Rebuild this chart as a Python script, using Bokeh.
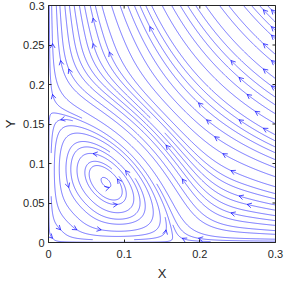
import math
from bokeh.plotting import figure
from bokeh.models import Range1d, FixedTicker
from bokeh.embed import file_html
from bokeh.resources import INLINE

# Phase-plane system.
# Inner part (helper coordinates u, v):
#   u' = u * (sad - u - cross*v),   v' = v * (-sad + cross*u + v)
#   mapped to (X, Y) = (u, v) * ((u+v)/|(u,v)|) ** bend
# Outer part: X' = X*(rx0 - rx1*X - rx2*Y),  Y' = Y*(ry0 + ry1*X + ry2*Y)
sad = [0.167]
cross = [1.9]
bend = [0.8]
rx = [0.165, 1.0, 1.171]
ry = [-0.165, 1.171, 1.0]
blend_r = [0.19, 0.27]   # radius band where inner flow turns into outer flow

x_lim = [0.0, 0.3]
y_lim = [0.0, 0.3]
x_ticks = [0, 0.1, 0.2, 0.3]
x_tick_labels = ["0", "0.1", "0.2", "0.3"]
y_ticks = [0, 0.05, 0.1, 0.15, 0.2, 0.25, 0.3]
y_tick_labels = ["0", "0.05", "0.1", "0.15", "0.2", "0.25", "0.3"]

FRAME_W, FRAME_H = 227, 237
SX = FRAME_W / (x_lim[1] - x_lim[0])
SY = FRAME_H / (y_lim[1] - y_lim[0])


def uv_field(u, v):
    a, b = sad[0], cross[0]
    return u * (a - u - b * v), v * (-a + b * u + v)


def fmap(u, v):
    r = math.hypot(u, v)
    if r < 1e-15:
        return 0.0, 0.0
    g = ((u + v) / r) ** bend[0]
    return u * g, v * g


def inner_field(x, y):
    r = math.hypot(x, y)
    g = ((x + y) / r) ** bend[0]
    u, v = x / g, y / g
    du, dv = uv_field(u, v)
    e = 1e-7
    a1 = fmap(u + e, v); a0 = fmap(u - e, v)
    b1 = fmap(u, v + e); b0 = fmap(u, v - e)
    j11 = (a1[0] - a0[0]) / (2 * e); j21 = (a1[1] - a0[1]) / (2 * e)
    j12 = (b1[0] - b0[0]) / (2 * e); j22 = (b1[1] - b0[1]) / (2 * e)
    return j11 * du + j12 * dv, j21 * du + j22 * dv


def outer_field(x, y):
    return (x * (rx[0] - rx[1] * x - rx[2] * y),
            y * (ry[0] + ry[1] * x + ry[2] * y))


def direction(x, y, s):
    r = math.hypot(x, y)
    if r < 1e-12:
        return None
    t = (r - blend_r[0]) / (blend_r[1] - blend_r[0])
    t = min(1.0, max(0.0, t))
    w = t * t * (3 - 2 * t)
    ux = uy = 0.0
    if w < 1:
        a, b = inner_field(x, y)
        m = math.hypot(a, b)
        if m > 0:
            ux += (1 - w) * a / m; uy += (1 - w) * b / m
    if w > 0:
        a, b = outer_field(x, y)
        m = math.hypot(a, b)
        if m > 0:
            ux += w * a / m; uy += w * b / m
    m = math.hypot(ux, uy)
    if m < 1e-9:
        return None
    return s * ux / m, s * uy / m


def integrate(x0, y0, s, h=0.0006, nmax=3000):
    pts = [(x0, y0)]
    x, y = x0, y0
    for _ in range(nmax):
        k1 = direction(x, y, s)
        if k1 is None:
            break
        k2 = direction(max(x + 0.5 * h * k1[0], 1e-9), max(y + 0.5 * h * k1[1], 1e-9), s)
        if k2 is None:
            break
        x += h * k2[0]
        y += h * k2[1]
        if x <= x_lim[0] or x > x_lim[1] or y <= y_lim[0] or y > y_lim[1]:
            break
        pts.append((x, y))
    return pts


# streamslice-like evenly spaced streamlines
NS, NE = 28, 84
xr = x_lim[1] - x_lim[0]
yr = y_lim[1] - y_lim[0]
start = [[0] * NS for _ in range(NS)]
endg = [[0] * NE for _ in range(NE)]


def cell(x, y, n):
    c = min(n - 1, max(0, int((x - x_lim[0]) / xr * n)))
    r = min(n - 1, max(0, int((y - y_lim[0]) / yr * n)))
    return r, c


order = sorted(range(NS * NS), key=lambda k: (k * 2654435761) % 4294967296)
line_xs, line_ys = [], []
arr_xs, arr_ys = [], []
for k in order:
    r, c = divmod(k, NS)
    if start[r][c]:
        continue
    start[r][c] = 1
    xs0 = x_lim[0] + (c + 0.5) * xr / NS
    ys0 = y_lim[0] + (r + 0.5) * yr / NS
    seed_cell = cell(xs0, ys0, NE)
    if endg[seed_cell[0]][seed_cell[1]]:
        continue
    for s in (1, -1):
        pts = integrate(xs0, ys0, s)
        kept = []
        last = None if s == 1 else seed_cell
        for (px, py) in pts:
            ce = cell(px, py, NE)
            if endg[ce[0]][ce[1]] and ce != last:
                break
            endg[ce[0]][ce[1]] = 1
            cs = cell(px, py, NS)
            start[cs[0]][cs[1]] = 1
            last = ce
            kept.append((px, py))
        if len(kept) > 1:
            line_xs.append([q[0] for q in kept])
            line_ys.append([q[1] for q in kept])
    d = direction(xs0, ys0, 1)
    if d is not None:
        ang = math.atan2(d[1] * SY, d[0] * SX)
        L = 5.0
        for sgn in (1, -1):
            a = ang + math.pi + sgn * math.radians(28)
            arr_xs.append([xs0, xs0 + L * math.cos(a) / SX])
            arr_ys.append([ys0, ys0 + L * math.sin(a) / SY])

p = figure(frame_width=FRAME_W, frame_height=FRAME_H, output_backend="svg",
           toolbar_location=None, x_range=Range1d(*x_lim), y_range=Range1d(*y_lim),
           min_border_left=40, min_border_right=13, min_border_top=5, min_border_bottom=38)
p.background_fill_color = "white"
p.border_fill_color = "white"
p.outline_line_color = "#262626"
p.outline_line_width = 1
p.grid.visible = False

blue = "#0000ff"
p.multi_line(line_xs, line_ys, line_color=blue, line_width=0.55)
p.multi_line(arr_xs, arr_ys, line_color=blue, line_width=0.7)

FONT = "Liberation Sans"
TXT = "#262626"

# inward ticks on the top and right edges of the box
p.scatter(x=x_ticks, y=[y_lim[1]] * len(x_ticks), marker="dash", angle=math.pi / 2,
          size=6, line_color=TXT, line_width=1)
p.scatter(x=[x_lim[1]] * len(y_ticks), y=y_ticks, marker="dash", angle=0,
          size=6, line_color=TXT, line_width=1)


def style(ax, ticks, labels):
    ax.ticker = FixedTicker(ticks=ticks)
    ax.major_label_overrides = {t: l for t, l in zip(ticks, labels)}
    ax.minor_tick_line_color = None
    ax.major_tick_in = 3
    ax.major_tick_out = 0
    ax.major_tick_line_color = TXT
    ax.axis_line_color = TXT
    ax.major_label_text_font = FONT
    ax.major_label_text_color = TXT
    ax.major_label_text_font_size = "11px"
    ax.axis_label_text_font = FONT
    ax.axis_label_text_color = TXT
    ax.axis_label_text_font_style = "normal"
    ax.axis_label_text_font_size = "13px"


style(p.xaxis[0], x_ticks, x_tick_labels)
style(p.yaxis[0], y_ticks, y_tick_labels)
p.xaxis[0].major_label_standoff = 7
p.yaxis[0].major_label_standoff = 4
p.xaxis[0].axis_label = "X"
p.yaxis[0].axis_label = "Y"
p.xaxis[0].axis_label_standoff = 5
p.yaxis[0].axis_label_standoff = 2

open("out.html", "w").write(file_html(p, INLINE))
